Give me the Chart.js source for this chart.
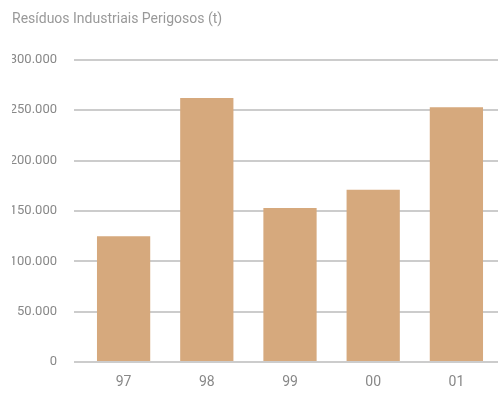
<!DOCTYPE html>
<html>
<head>
<meta charset="utf-8">
<script src="https://cdn.jsdelivr.net/npm/chart.js@4.4.0/dist/chart.umd.min.js"></script>
<style>
html, body { margin: 0; padding: 0; background: #fff; }
#wrap { width: 498px; height: 397px; position: relative; }
</style>
</head>
<body>
<div id="wrap"><canvas id="chart"></canvas></div>
<script>
const years = ['97', '98', '99', '00', '01'];
const residuos = [124800, 262000, 153000, 171000, 253000];
const yTicks = [0, 50000, 100000, 150000, 200000, 250000, 300000];

const fontFam = "'Roboto', sans-serif";

function fmt(v) {
	return v.toString().replace(/\B(?=(\d{3})+(?!\d))/g, '.');
}

const ctx = document.querySelector('#chart');
const chart = new Chart(ctx, {
	type: 'bar',
	data: {
		labels: years,
		datasets: [
			{
				label: 'Resíduos Industriais Perigosos (t)',
				data: residuos,
				backgroundColor: '#d6a97d',
				categoryPercentage: 0.64,
				barPercentage: 1,
			},
		]
	},
	options: {
		responsive: true,
		maintainAspectRatio: false,
		animation: false,
		layout: { padding: { left: 12, right: 0, top: 9, bottom: 0 } },
		plugins: {
			legend: { display: false },
			tooltip: { enabled: false },
			title: {
				display: true,
				text: 'Resíduos Industriais Perigosos (t)',
				align: 'start',
				color: '#999',
				font: { family: fontFam, size: 14, weight: 'normal' },
				padding: { top: 2, bottom: 32 },
			},
		},
		scales: {
			x: {
				afterFit: (axis) => { axis.height = 35; },
				grid: { display: false },
				border: { display: false },
				ticks: { color: '#888', font: { family: fontFam, size: 14 }, padding: 4 },
			},
			y: {
				min: 0,
				max: 300000,
				afterBuildTicks: (axis) => { axis.ticks = yTicks.map(v => ({ value: v })); },
				afterFit: (axis) => { axis.width = 70; },
				grid: { color: '#cccccc', lineWidth: 2, tickLength: 8 },
				border: { display: false },
				ticks: {
					color: '#888',
					font: { family: fontFam, size: 13 },
					padding: 17,
					callback: (v) => fmt(v),
				},
			}
		}
	}
});
</script>
</body>
</html>
